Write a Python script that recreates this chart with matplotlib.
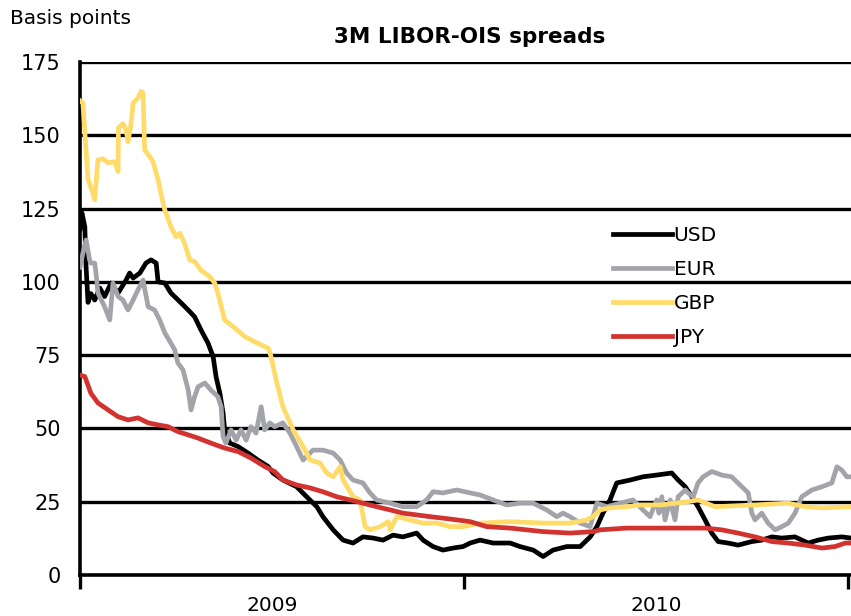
import matplotlib
matplotlib.use("Agg")
import matplotlib.pyplot as plt

# x = months since start of 2009
usd_x = [0, 0.06, 0.15, 0.19, 0.25, 0.34, 0.46, 0.62, 0.77, 0.97, 1.19, 1.44, 1.55, 1.66, 1.87,
         2.06, 2.22, 2.38, 2.44, 2.65, 2.84, 3.16, 3.38, 3.58, 3.78, 4.0, 4.16, 4.25, 4.37, 4.47,
         4.52, 4.68, 4.94, 5.25, 5.56, 5.88, 6.03, 6.34, 6.77, 7.08, 7.4, 7.59, 7.91, 8.22, 8.53,
         8.84, 9.16, 9.47, 9.78, 10.09, 10.52, 10.72, 11.03, 11.34, 11.66, 11.97, 12.19, 12.5,
         12.91, 13.44, 13.75, 14.16, 14.47, 14.78, 15.21, 15.63, 15.94, 16.15, 16.34, 16.56,
         16.77, 17.19, 17.59, 18.02, 18.49, 18.69, 18.91, 19.12, 19.31, 19.53, 19.74, 19.94,
         20.25, 20.56, 20.99, 21.3, 21.62, 21.93, 22.34, 22.75, 23.06, 23.38, 23.8, 24.09]
usd_y = [118, 123.5, 118.8, 105, 93, 96, 93.8, 97.9, 95, 99.6, 96.2, 100.6, 103, 101.3, 103,
         106.4, 107.5, 106.4, 100, 99.6, 96.2, 92.8, 90.4, 88.1, 83.6, 79.1, 74.5, 67.7, 62, 55.3,
         49.5, 45, 43.8, 41.6, 39.2, 37, 34.8, 32.4, 30.1, 26.7, 23.3, 19.9, 15.4, 11.9, 10.9,
         13, 12.6, 11.9, 13.6, 13, 14.3, 11.9, 9.7, 8.5, 9.2, 9.7, 10.9, 11.9,
         10.9, 10.9, 9.7, 8.5, 6.3, 8.5, 9.7, 9.7, 13, 16.5, 21.1, 25.6,
         31.4, 32.4, 33.5, 34.1, 34.8, 32.4, 30.1, 26.7, 23.3, 18.8, 14.3, 11.4,
         10.9, 10.2, 11.4, 11.9, 13, 12.6, 13, 10.9, 11.9, 12.6, 13, 12.6]

eur_x = [0, 0.09, 0.19, 0.3, 0.34, 0.46, 0.5, 0.56, 0.77, 0.93, 1.03, 1.19, 1.34, 1.5, 1.66,
         1.81, 1.97, 2.13, 2.33, 2.49, 2.65, 2.84, 2.96, 3.06, 3.22, 3.38, 3.47, 3.58, 3.69, 3.9,
         4.09, 4.31, 4.41, 4.47, 4.56, 4.72, 4.88, 5.03, 5.19, 5.34, 5.5, 5.66, 5.77, 5.93, 6.08,
         6.34, 6.56, 6.77, 6.97, 7.28, 7.59, 7.91, 8.13, 8.33, 8.53, 8.84, 9.06, 9.27, 9.69,
         10.09, 10.52, 10.83, 11.03, 11.34, 11.77, 12.19, 12.5, 12.91, 13.33, 13.75, 14.16,
         14.58, 14.9, 15.09, 15.31, 15.63, 15.94, 16.15, 16.46, 16.88, 17.28, 17.59, 17.81,
         18.02, 18.09, 18.18, 18.28, 18.44, 18.59, 18.69, 18.91, 19.0, 19.16, 19.31, 19.47,
         19.74, 20.05, 20.36, 20.68, 20.88, 20.99, 21.09, 21.3, 21.5, 21.72, 21.93, 22.13,
         22.34, 22.55, 22.87, 23.18, 23.49, 23.65, 23.8, 23.96, 24.09]
eur_y = [105, 109.8, 114.3, 107.5, 106.4, 106.4, 103, 96.2, 91.5, 87, 99.6, 95, 93.8, 90.4, 93.8,
         97.2, 100.6, 91.5, 90.4, 87, 82.6, 79.1, 76.8, 72.3, 69.9, 63.1, 56.3, 60.8, 64.2, 65.5,
         63.1, 60.8, 57.4, 47.2, 45, 49.5, 46, 49.5, 46, 50.6, 48.4, 57.4, 49.5, 51.9, 50.6,
         51.9, 48.4, 43.8, 39.2, 42.6, 42.6, 41.6, 39.2, 34.8, 32.4, 31.4, 28, 25.6, 24.5,
         23.3, 23.3, 25.6, 28.4, 28, 29, 28, 27.3, 25.6, 23.9, 24.5, 24.5,
         22.2, 19.9, 21.1, 19.9, 17.7, 16.5, 24.5, 23.3, 24.5, 25.6, 22.2, 19.9,
         25.6, 21.1, 26.7, 18.8, 25.6, 18.8, 26.7, 29, 28, 26.7, 31.4, 33.5,
         35.3, 34.1, 33.5, 30.1, 28, 21.1, 18.8, 21.1, 17.7, 15.4, 16.5, 17.7,
         21.1, 26.7, 29, 30.1, 31.4, 36.9, 35.8, 33.5, 33.5]

gbp_x = [0, 0.09, 0.25, 0.41, 0.46, 0.56, 0.72, 0.88, 1.08, 1.19, 1.2, 1.34, 1.44, 1.5, 1.59,
         1.66, 1.81, 1.91, 1.97, 2.02, 2.18, 2.28, 2.44, 2.53, 2.65, 2.84, 3.0, 3.12, 3.27, 3.43,
         3.58, 3.78, 4.05, 4.21, 4.31, 4.52, 4.83, 5.15, 5.56, 5.88, 5.97, 6.15, 6.34, 6.66,
         6.97, 7.19, 7.5, 7.71, 7.91, 8.13, 8.22, 8.53, 8.75, 8.91, 9.06, 9.38, 9.63, 9.69, 9.9,
         10.31, 10.72, 11.15, 11.56, 11.97, 12.5, 13.44, 14.47, 15.31, 15.83, 16.03, 16.25,
         16.56, 17.08, 17.5, 18.13, 19.0, 19.31, 19.84, 21.09, 22.13, 22.66, 23.18, 24.09]
gbp_y = [161.8, 161, 135, 130, 128, 141.6, 142, 140.6, 141, 137.6, 152.5, 154, 151.8, 147.8, 153.5,
         161, 162.7, 165, 164.4, 145, 142.7, 141, 134.8, 130, 124.5, 118.8, 115.4, 116.6, 113, 107.5,
         106.9, 104, 101.8, 99.6, 96, 87, 84.3, 81.3, 79, 77.4, 74.5, 65.5, 57.4, 49.5,
         43.8, 39.2, 38.2, 34.8, 33.5, 37, 32.4, 26.7, 25.6, 16.5, 15.4, 16.5, 18.2, 15.4, 19.9,
         18.8, 17.7, 17.7, 16.5, 16.5, 17.7, 18.2, 17.7, 17.7, 18.8, 19.9, 22.2,
         22.9, 23.3, 23.9, 23.9, 25, 25.6, 23.3, 23.9, 24.5, 23.3, 22.9, 23.3]

jpy_x = [0, 0.15, 0.34, 0.56, 0.88, 1.19, 1.5, 1.81, 2.13, 2.44, 2.75, 3.06, 3.38, 3.69, 4.09,
         4.52, 4.94, 5.34, 5.77, 6.08, 6.34, 6.77, 7.19, 7.59, 8.02, 8.44, 8.84, 9.27, 9.69,
         10.09, 10.52, 10.94, 11.34, 11.77, 12.19, 12.71, 13.44, 14.47, 15.31, 16.03, 16.25,
         17.08, 18.13, 19.0, 19.53, 20.05, 20.56, 21.09, 21.62, 22.13, 22.66, 23.18, 23.59,
         23.91, 24.09]
jpy_y = [68.2, 67.7, 62, 58.7, 56.3, 54, 52.9, 53.6, 51.9, 51.2, 50.6, 48.9, 47.8, 46.7, 45,
         43.3, 42.1, 39.9, 37, 35.3, 32.4, 30.7, 29.7, 28.4, 26.7, 25.6, 24.5, 23.3, 22.2,
         21.1, 20.5, 19.9, 19.4, 18.8, 18.2, 16.5, 16, 14.8, 14.3, 14.8, 15.4,
         16, 16, 16, 16, 15.4, 14.3, 13, 11.4, 10.9, 10.2, 9.2, 9.7,
         10.9, 10.9]

yticks = [0, 25, 50, 75, 100, 125, 150, 175]
year_labels = ["2009", "2010"]

fig = plt.figure(figsize=(8.51, 6.16), dpi=100)
ax = fig.add_axes([80 / 851, 1 - 575 / 616, 771 / 851, 513 / 616])

for y in yticks[1:]:
    ax.axhline(y, color="black", lw=2.4, zorder=1)

ax.plot(usd_x, usd_y, color="#000000", lw=3.4, label="USD", zorder=3)
ax.plot(eur_x, eur_y, color="#A3A3AA", lw=3.4, label="EUR", zorder=3)
ax.plot(gbp_x, gbp_y, color="#FFDB6A", lw=3.4, label="GBP", zorder=3)
ax.plot(jpy_x, jpy_y, color="#D2332F", lw=3.4, label="JPY", zorder=3)

ax.set_xlim(0, 24.09)
ax.set_ylim(0, 175)
ax.set_yticks(yticks)
ax.tick_params(axis="y", length=0, labelsize=15, pad=14)
ax.set_xticks([0, 12, 24])
ax.set_xticklabels([])
ax.tick_params(axis="x", which="major", length=10, width=2.4, direction="out")
ax.set_xticks([6, 18], minor=True)
ax.set_xticklabels(year_labels, minor=True)
ax.tick_params(axis="x", which="minor", length=0, labelsize=14.5, pad=15)

for side in ["top", "right"]:
    ax.spines[side].set_visible(False)
ax.spines["left"].set_linewidth(2.6)
ax.spines["bottom"].set_linewidth(2.6)

ax.legend(loc="upper left", bbox_to_anchor=(0.668, 0.716), frameon=False, fontsize=14.5,
          handlelength=2.9, handletextpad=0.1, labelspacing=0.75)

fig.text(10 / 851, 1 - 18 / 616, "Basis points", fontsize=14.5, va="center", ha="left")
fig.text(470 / 851, 1 - 37 / 616, "3M LIBOR-OIS spreads", fontsize=15.5, fontweight="bold",
         va="center", ha="center")

fig.savefig("out.png", dpi=100)
